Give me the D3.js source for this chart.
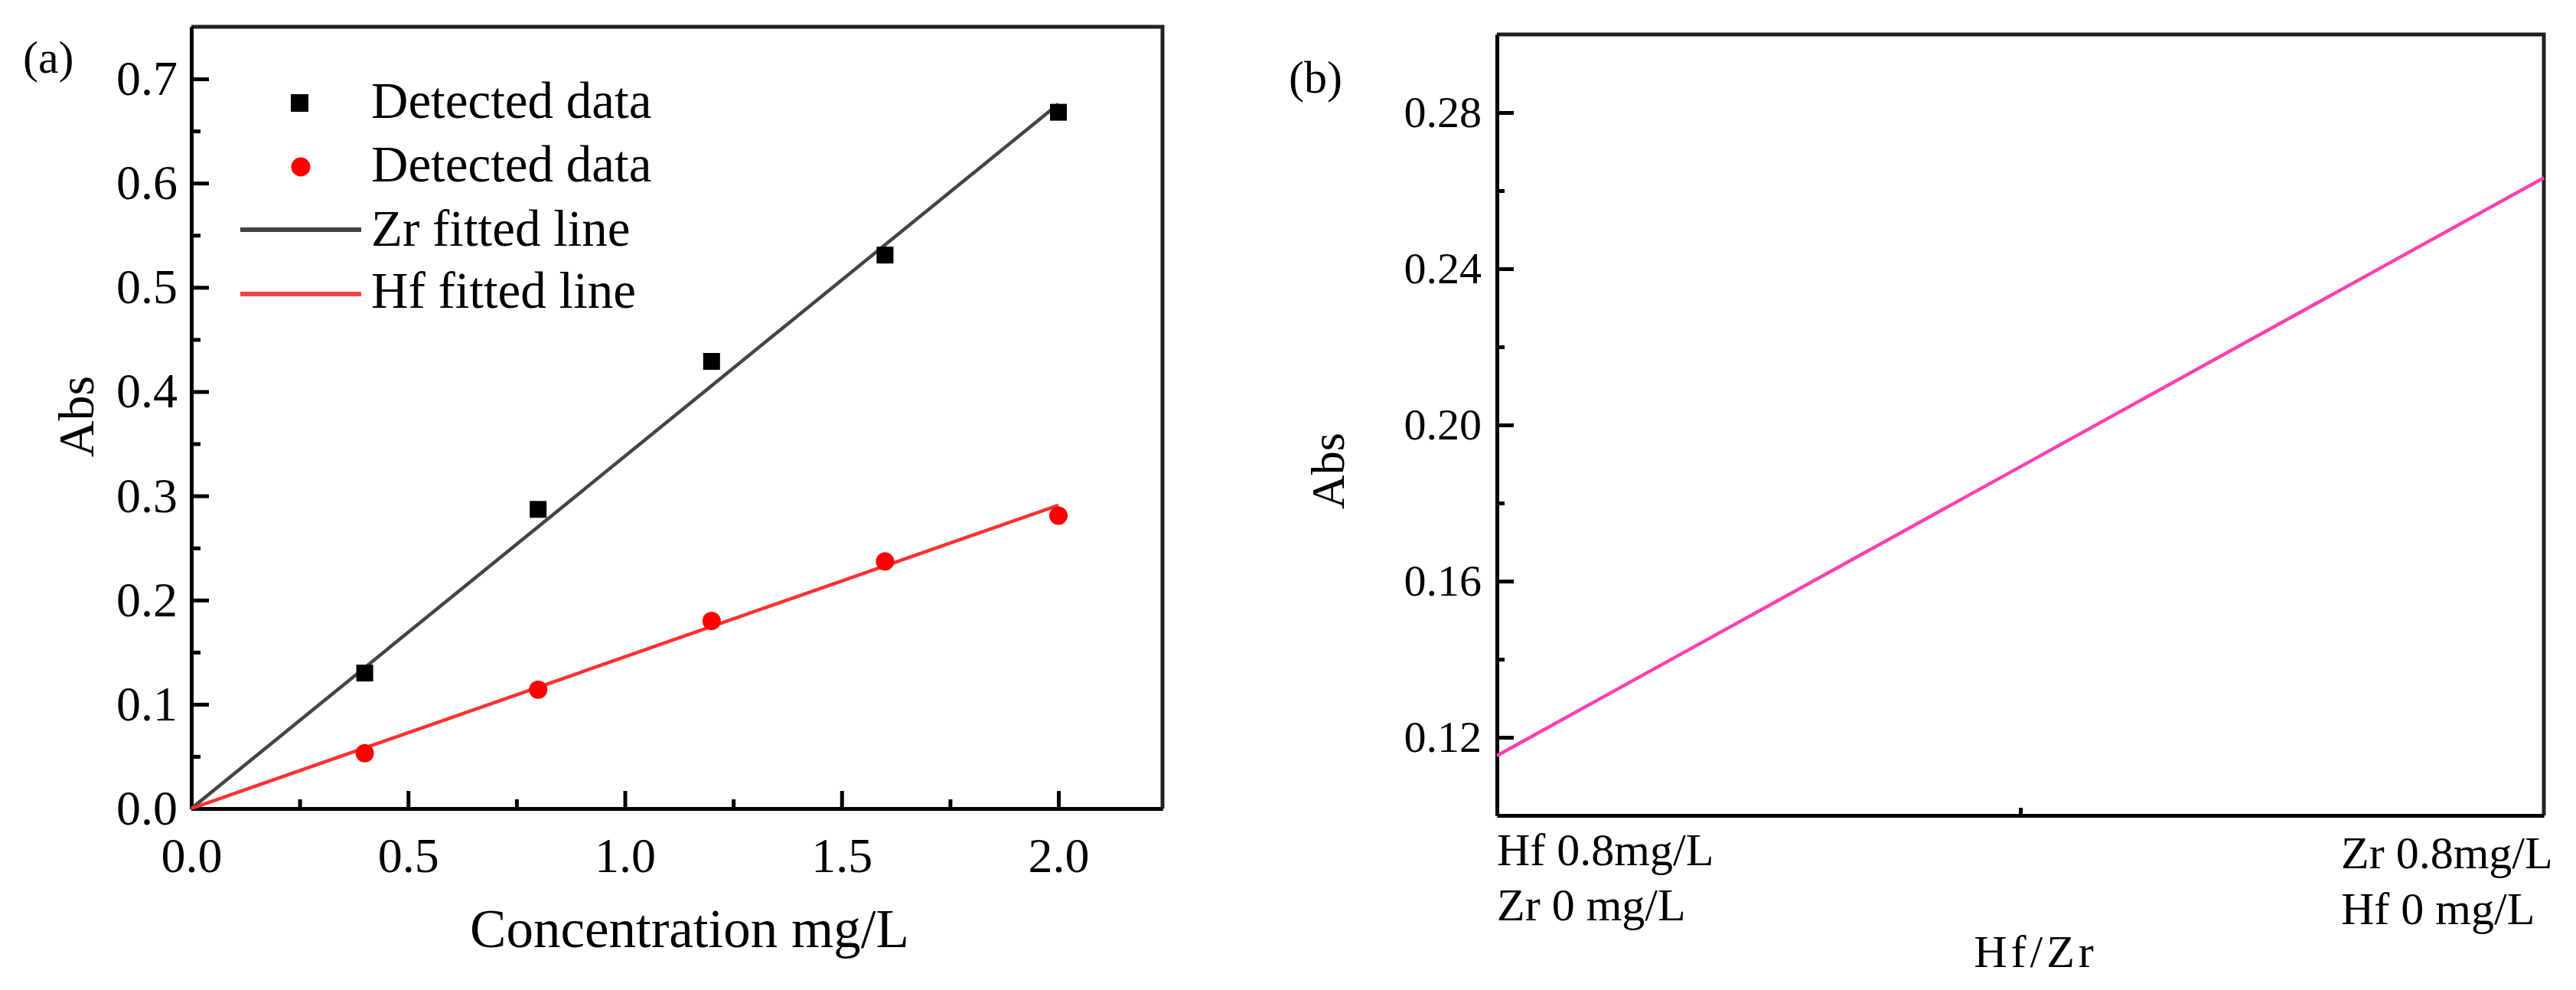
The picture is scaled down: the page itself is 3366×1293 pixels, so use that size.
<!DOCTYPE html>
<html><head><meta charset="utf-8">
<script src="https://cdn.jsdelivr.net/npm/d3@7/dist/d3.min.js"></script>
<style>
html,body{margin:0;padding:0;background:#fff;}
svg{display:block;}
text{font-family:"Liberation Serif","Times New Roman",serif;fill:#000;}
</style></head>
<body>
<svg id="chart" width="3366" height="1293"></svg>
<script>
// ---- data (panel a) ----
const concentration = [0.4, 0.8, 1.2, 1.6, 2.0];
const zrAbs = [0.130, 0.287, 0.429, 0.531, 0.668];
const hfAbs = [0.053, 0.114, 0.180, 0.237, 0.281];
const fitX = [0, 2.0];
const zrFitY = [0, 0.676];
const hfFitY = [0, 0.291];
const aXTicks = [0, 0.5, 1.0, 1.5, 2.0];
const aXMinor = [0.25, 0.75, 1.25, 1.75];
const aYTicks = [0, 0.1, 0.2, 0.3, 0.4, 0.5, 0.6, 0.7];
const aYMinor = [0.05, 0.15, 0.25, 0.35, 0.45, 0.55, 0.65];
const legendLabels = ["Detected data", "Detected data", "Zr fitted line", "Hf fitted line"];
// ---- data (panel b) ----
const ratioX = [0, 1];
const mixAbs = [0.1153, 0.2633];
const bYTicks = [0.12, 0.16, 0.20, 0.24, 0.28];
const bYMinor = [0.14, 0.18, 0.22, 0.26];
const bXMinor = [0.5];
const bLeftLabel = ["Hf 0.8mg/L", "Zr 0 mg/L"];
const bRightLabel = ["Zr 0.8mg/L", "Hf 0 mg/L"];

const svg = d3.select("#chart");

// ================= Panel (a) =================
const xA = d3.scaleLinear().domain([0, 2.24]).range([250, 1519]);
const yA = d3.scaleLinear().domain([0, 0.75]).range([1056, 35]);

function styleAxis(g, fs) {
  g.selectAll("path.domain").attr("stroke", "#000").attr("stroke-width", 5);
  g.selectAll(".tick line").attr("stroke", "#000").attr("stroke-width", 5);
  g.selectAll(".tick text").attr("font-size", fs).attr("fill", "#000")
    .attr("font-family", '"Liberation Serif","Times New Roman",serif');
}

const gA = svg.append("g");
// frame top/right
gA.append("path")
  .attr("d", `M${xA(0)},${yA(0.75)}H${xA(2.24)}V${yA(0)}`)
  .attr("fill", "none").attr("stroke", "#222").attr("stroke-width", 5);

const axAx = gA.append("g").attr("transform", `translate(0,${yA(0)})`)
  .call(d3.axisBottom(xA).tickValues(aXTicks).tickFormat(d3.format(".1f"))
    .tickSizeInner(-23).tickSizeOuter(0).tickPadding(38));
styleAxis(axAx, 64);
const axAxm = gA.append("g").attr("transform", `translate(0,${yA(0)})`)
  .call(d3.axisBottom(xA).tickValues(aXMinor).tickFormat("").tickSizeInner(-12).tickSizeOuter(0));
styleAxis(axAxm, 64);

const axAy = gA.append("g").attr("transform", `translate(${xA(0)},0)`)
  .call(d3.axisLeft(yA).tickValues(aYTicks).tickFormat(d3.format(".1f"))
    .tickSizeInner(-23).tickSizeOuter(0).tickPadding(18));
styleAxis(axAy, 64);
const axAym = gA.append("g").attr("transform", `translate(${xA(0)},0)`)
  .call(d3.axisLeft(yA).tickValues(aYMinor).tickFormat("").tickSizeInner(-12).tickSizeOuter(0));
styleAxis(axAym, 64);

// fitted lines
const lineA = d3.line().x(d => xA(d[0])).y(d => yA(d[1]));
gA.append("path").datum(fitX.map((x, i) => [x, zrFitY[i]]))
  .attr("d", lineA).attr("fill", "none").attr("stroke", "#444").attr("stroke-width", 4.5);
gA.append("path").datum(fitX.map((x, i) => [x, hfFitY[i]]))
  .attr("d", lineA).attr("fill", "none").attr("stroke", "#ff3030").attr("stroke-width", 4.5);

// points
const sq = 22;
gA.selectAll("rect.zr").data(concentration.map((x, i) => [x, zrAbs[i]])).enter()
  .append("rect").attr("class", "zr")
  .attr("x", d => xA(d[0]) - sq / 2).attr("y", d => yA(d[1]) - sq / 2)
  .attr("width", sq).attr("height", sq).attr("fill", "#000");
gA.selectAll("circle.hf").data(concentration.map((x, i) => [x, hfAbs[i]])).enter()
  .append("circle").attr("class", "hf")
  .attr("cx", d => xA(d[0])).attr("cy", d => yA(d[1])).attr("r", 12).attr("fill", "#ff0000");

// legend
const lg = gA.append("g");
lg.append("rect").attr("x", 380).attr("y", 123).attr("width", 23).attr("height", 23).attr("fill", "#000");
lg.append("circle").attr("cx", 393).attr("cy", 218).attr("r", 12.5).attr("fill", "#ff0000");
lg.append("line").attr("x1", 314).attr("x2", 472).attr("y1", 300).attr("y2", 300)
  .attr("stroke", "#444").attr("stroke-width", 6);
lg.append("line").attr("x1", 314).attr("x2", 472).attr("y1", 384).attr("y2", 384)
  .attr("stroke", "#f04444").attr("stroke-width", 6);
const legendBase = [154, 237, 321, 402];
lg.selectAll("text").data(legendLabels).enter().append("text")
  .attr("x", 485).attr("y", (d, i) => legendBase[i]).attr("font-size", 67).text(d => d);

// labels
gA.append("text").attr("x", 30).attr("y", 95).attr("font-size", 60).text("(a)");
gA.append("text").attr("transform", "translate(122,544) rotate(-90)")
  .attr("text-anchor", "middle").attr("font-size", 66).text("Abs");
gA.append("text").attr("x", 901).attr("y", 1237).attr("text-anchor", "middle")
  .attr("font-size", 71).text("Concentration mg/L");

// ================= Panel (b) =================
const xB = d3.scaleLinear().domain([0, 1]).range([1956, 3324]);
const yB = d3.scaleLinear().domain([0.10, 0.30]).range([1065, 45]);

const gB = svg.append("g");
gB.append("path")
  .attr("d", `M${xB(0)},${yB(0.30)}H${xB(1)}V${yB(0.10)}`)
  .attr("fill", "none").attr("stroke", "#222").attr("stroke-width", 5);

const bxm = gB.append("g").attr("transform", `translate(0,${yB(0.10)})`)
  .call(d3.axisBottom(xB).tickValues(bXMinor).tickFormat("").tickSizeInner(-10).tickSizeOuter(0));
styleAxis(bxm, 60);

const by = gB.append("g").attr("transform", `translate(${xB(0)},0)`)
  .call(d3.axisLeft(yB).tickValues(bYTicks).tickFormat(d3.format(".2f"))
    .tickSizeInner(-22).tickSizeOuter(0).tickPadding(20));
styleAxis(by, 58);
const bym = gB.append("g").attr("transform", `translate(${xB(0)},0)`)
  .call(d3.axisLeft(yB).tickValues(bYMinor).tickFormat("").tickSizeInner(-10).tickSizeOuter(0));
styleAxis(bym, 58);

const lineB = d3.line().x(d => xB(d[0])).y(d => yB(d[1]));
gB.append("path").datum(ratioX.map((x, i) => [x, mixAbs[i]]))
  .attr("d", lineB).attr("fill", "none").attr("stroke", "#ff3fb0").attr("stroke-width", 4.5);

// x category labels
const lBase = [1130, 1202];
gB.selectAll("text.bl").data(bLeftLabel).enter().append("text").attr("class", "bl")
  .attr("x", xB(0)).attr("y", (d, i) => lBase[i]).attr("font-size", 60).text(d => d);
const rBase = [1134, 1207];
gB.selectAll("text.br").data(bRightLabel).enter().append("text").attr("class", "br")
  .attr("x", 3059).attr("y", (d, i) => rBase[i]).attr("font-size", 60).text(d => d);

gB.append("text").attr("x", 1684).attr("y", 121).attr("font-size", 60).text("(b)");
gB.append("text").attr("transform", "translate(1756,615) rotate(-90)")
  .attr("text-anchor", "middle").attr("font-size", 62).text("Abs");
gB.append("text").attr("x", 2660).attr("y", 1263).attr("text-anchor", "middle")
  .attr("font-size", 60).attr("letter-spacing", 5).text("Hf/Zr");
</script>
</body></html>
